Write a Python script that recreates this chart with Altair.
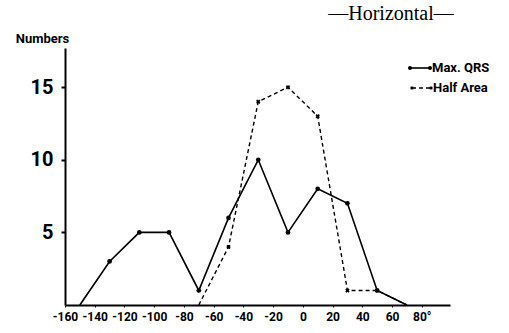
import altair as alt
import pandas as pd

# Data
angles_qrs = [-150, -130, -110, -90, -70, -50, -30, -10, 10, 30, 50, 70]
max_qrs = [0, 3, 5, 5, 1, 6, 10, 5, 8, 7, 1, 0]
angles_half = [-70, -50, -30, -10, 10, 30, 50, 70]
half_area = [0, 4, 14, 15, 13, 1, 1, 0]
x_ticks = [-160, -140, -120, -100, -80, -60, -40, -20, 0, 20, 40, 60, 80]
y_ticks = [5, 10, 15]
legend_labels = ["Max. QRS", "Half Area"]
title_text = ["—Horizontal—"]

NARROW = "Roboto, sans-serif"

df_q = pd.DataFrame({"angle": angles_qrs, "n": max_qrs})
df_h = pd.DataFrame({"angle": angles_half, "n": half_area})
df_qp = df_q[(df_q.n > 0)]
df_hp = df_h[(df_h.n > 0)]

xs = alt.Scale(domain=[-160, 99], nice=False, zero=False)
ys = alt.Scale(domain=[0, 17.7], nice=False, zero=False)

xaxis = alt.Axis(values=x_ticks, labelExpr="datum.value == 80 ? '80°' : datum.value",
                 title=None, grid=False, domainColor="black", domainWidth=2,
                 tickSize=2, tickColor="black", labelFont=NARROW, labelFontSize=12,
                 labelFontWeight="bold", labelColor="black", labelPadding=4,
                 labelFlush=False, labelOverlap=False)
yaxis = alt.Axis(values=y_ticks, title="Numbers", titleAngle=0, titleX=-23, titleY=-6,
                 titleAlign="center", titleBaseline="alphabetic", titleFont=NARROW,
                 titleFontSize=13, titleFontWeight="bold", titleColor="black",
                 grid=False, domainColor="black", domainWidth=2, tickSize=4,
                 tickColor="black", tickWidth=2, labelFont=NARROW, labelFontSize=20,
                 labelFontWeight="bold", labelColor="black", labelPadding=8,
                 labelOverlap=False)

line_q = alt.Chart(df_q).mark_line(color="black", strokeWidth=1.6).encode(
    x=alt.X("angle:Q", scale=xs, axis=xaxis),
    y=alt.Y("n:Q", scale=ys, axis=yaxis),
)
pts_q = alt.Chart(df_qp).mark_point(shape="circle", filled=True, color="black", size=22, opacity=1).encode(
    x=alt.X("angle:Q", scale=xs, axis=xaxis), y=alt.Y("n:Q", scale=ys, axis=yaxis))
line_h = alt.Chart(df_h).mark_line(color="black", strokeWidth=1.4, strokeDash=[4, 3]).encode(
    x=alt.X("angle:Q", scale=xs, axis=xaxis), y=alt.Y("n:Q", scale=ys, axis=yaxis))
pts_h = alt.Chart(df_hp).mark_point(shape="cross", filled=True, color="black", size=20, angle=45, opacity=1).encode(
    x=alt.X("angle:Q", scale=xs, axis=xaxis), y=alt.Y("n:Q", scale=ys, axis=yaxis))

# custom legend (pixel positions inside plot area)
leg = pd.DataFrame({"label": legend_labels})
l1 = alt.Chart(leg.iloc[[0]]).mark_rule(color="black", strokeWidth=1.6).encode(
    x=alt.value(345), x2=alt.value(365), y=alt.value(20))
l1p = alt.Chart(pd.DataFrame({"px": [345, 365]})).mark_point(shape="circle", filled=True, color="black", size=16, opacity=1).encode(
    x=alt.X("px:Q", scale=None), y=alt.value(20))
l2 = alt.Chart(leg.iloc[[1]]).mark_rule(color="black", strokeWidth=1.4, strokeDash=[4, 3]).encode(
    x=alt.value(347), x2=alt.value(366), y=alt.value(40))
l2p = alt.Chart(pd.DataFrame({"px": [347, 366]})).mark_point(shape="cross", filled=True, color="black", size=14, angle=45, opacity=1).encode(
    x=alt.X("px:Q", scale=None), y=alt.value(40))
t1 = alt.Chart(leg.iloc[[0]]).mark_text(align="left", baseline="middle", font=NARROW, fontSize=13,
                                        fontWeight="bold", color="black").encode(
    x=alt.value(367), y=alt.value(20), text="label:N")
t2 = alt.Chart(leg.iloc[[1]]).mark_text(align="left", baseline="middle", font=NARROW, fontSize=13,
                                        fontWeight="bold", color="black").encode(
    x=alt.value(368), y=alt.value(40), text="label:N")

title = alt.Chart(pd.DataFrame({"t": title_text})).mark_text(
    align="center", baseline="alphabetic", font="Liberation Serif, DejaVu Serif, serif",
    fontSize=20, color="black").encode(x=alt.value(326), y=alt.value(-28), text="t:N")

chart = alt.layer(line_h, pts_h, line_q, pts_q, l1, l1p, l2, l2p, t1, t2, title).properties(
    width=385, height=257,
    autosize=alt.AutoSizeParams(type="none"),
    padding={"left": 65, "top": 48, "right": 59, "bottom": 28},
    background="white",
).configure_view(stroke=None).configure_axis(labelOverlap=False)

chart.save("out.html", embed_options={"renderer": "svg", "actions": False})
